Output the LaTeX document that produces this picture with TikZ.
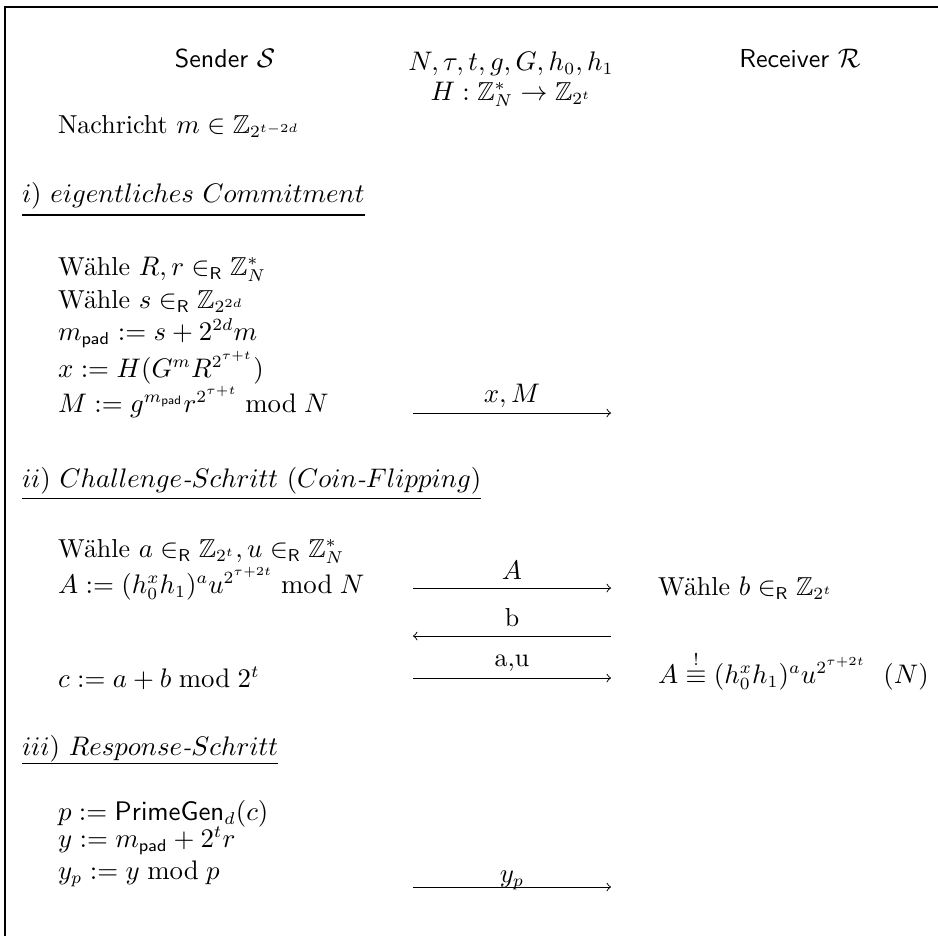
\documentclass[tikz,border=0pt]{standalone}
\usepackage{amsmath,amssymb}
\begin{document}
\begin{tikzpicture}[x=0.408pt,y=-0.408pt,
  every node/.style={font=\fontsize{10.6}{12.7}\selectfont, inner sep=0pt, outer sep=0pt},
  txt/.style={anchor=base west},
  ctr/.style={anchor=base},
  frameline/.style={line width=0.5pt},
  msg/.style={->, line width=0.4pt},
  uline/.style={line width=0.5pt},
  lab/.style={midway, anchor=base, yshift=#1}]
\useasboundingbox (0,0) rectangle (938,936);
\draw[frameline] (5,936) -- (5,7) -- (938,7);

% header
\node[ctr] (snd) at (225,67) {\textsf{Sender} $\mathcal{S}$};
\node[ctr] (par) at (511,70) {$N, \tau, t, g, G, h_0, h_1$};
\node[ctr] (hash) at (511,100) {$H : \mathbb{Z}_N^* \rightarrow \mathbb{Z}_{2^t}$};
\node[ctr] (rcv) at (800,67) {\textsf{Receiver} $\mathcal{R}$};
\node[txt] (nachr) at (58,133) {Nachricht $m \in \mathbb{Z}_{2^{t-2d}}$};

% i)
\node[txt] (h1) at (22,202) {$i)\ eigentliches\ Commitment$};
\draw[uline] ([yshift=-5.3pt]h1.base west) -- ([yshift=-5.3pt]h1.base east);
\node[txt] (s1) at (58,275) {Wähle $R, r \in_{\mathsf{R}} \mathbb{Z}_N^*$};
\node[txt] (s2) at (58,308) {Wähle $s \in_{\mathsf{R}} \mathbb{Z}_{2^{2d}}$};
\node[txt] (s3) at (58,340) {$m_{\mathsf{pad}} := s + 2^{2d} m$};
\node[txt] (s4) at (58,377) {$x := H(G^m R^{2^{\tau+t}})$};
\node[txt] (s5) at (58,412) {$M := g^{m_{\mathsf{pad}}} r^{2^{\tau+t}} \bmod N$};
\coordinate (m1s) at (413,413);
\coordinate (m1e) at (611,413);
\draw[msg] (m1s) -- node[lab=4.1pt] {$x, M$} (m1e);

% ii)
\node[txt] (h2) at (22,487) {$ii)\ Challenge\textit{-}Schritt\ (Coin\textit{-}Flipping)$};
\draw[uline] ([yshift=-4.6pt]h2.base west) -- ([yshift=-4.6pt]h2.base east);
\node[txt] (s6) at (58,557) {Wähle $a \in_{\mathsf{R}} \mathbb{Z}_{2^t}, u \in_{\mathsf{R}} \mathbb{Z}_N^*$};
\node[txt] (s7) at (58,593) {$A := (h_0^x h_1)^a u^{2^{\tau+2t}} \bmod N$};
\node[txt] (s8) at (58,687) {$c := a + b \bmod 2^t$};
\node[txt] (r1) at (658,595) {Wähle $b \in_{\mathsf{R}} \mathbb{Z}_{2^t}$};
\node[txt] (r2) at (658,683) {$A \stackrel{!}{\equiv} (h_0^x h_1)^a u^{2^{\tau+2t}}\ \ (N)$};
\coordinate (m2s) at (413,588);
\coordinate (m2e) at (611,588);
\draw[msg] (m2s) -- node[lab=3.3pt] {$A$} (m2e);
\coordinate (m3s) at (611,636);
\coordinate (m3e) at (413,636);
\draw[msg] (m3s) -- node[lab=3.7pt] {b} (m3e);
\coordinate (m4s) at (413,678);
\coordinate (m4e) at (611,678);
\draw[msg] (m4s) -- node[lab=4.5pt] {a,u} (m4e);

% iii)
\node[txt] (h3) at (22,755) {$iii)\ Response\textit{-}Schritt$};
\draw[uline] ([yshift=-3.6pt]h3.base west) -- ([yshift=-3.6pt]h3.base east);
\node[txt] (s9) at (58,820) {$p := \mathsf{PrimeGen}_d(c)$};
\node[txt] (s10) at (58,847) {$y := m_{\mathsf{pad}} + 2^t r$};
\node[txt] (s11) at (58,879) {$y_p := y \bmod p$};
\coordinate (m5s) at (413,887);
\coordinate (m5e) at (611,887);
\draw[msg] (m5s) -- node[lab=2pt] {$y_p$} (m5e);
\end{tikzpicture}
\end{document}
